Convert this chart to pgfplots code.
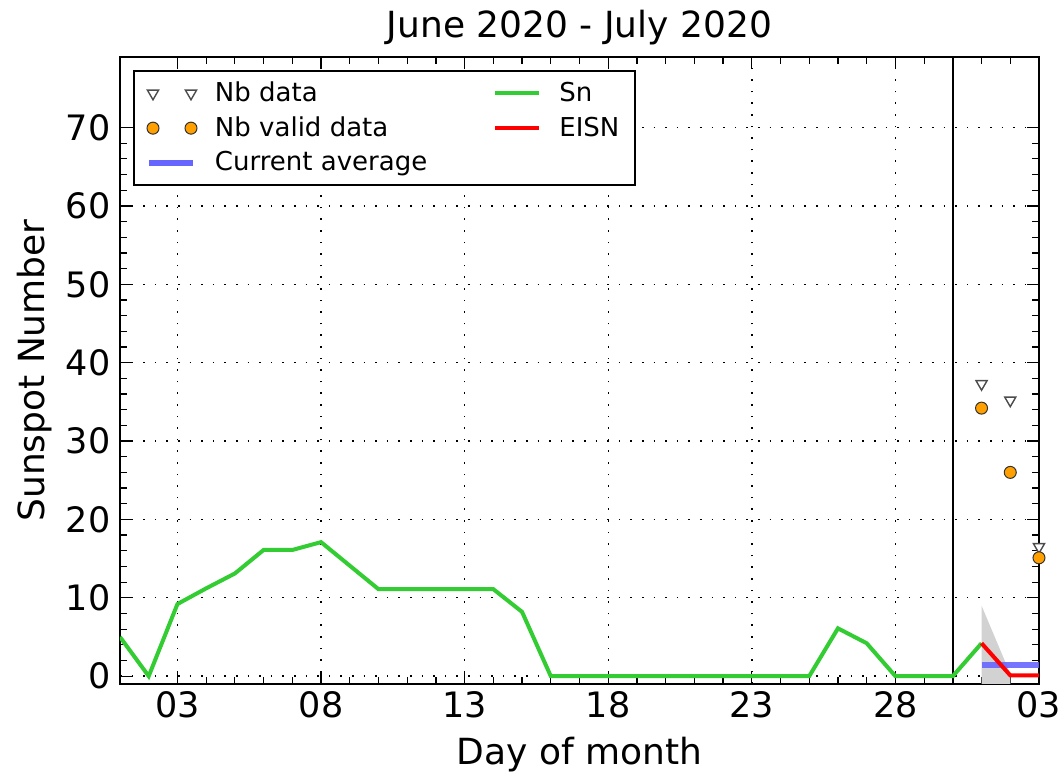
\documentclass[border=0pt]{standalone}
\usepackage{fontspec}
\setmainfont{DejaVu Sans}
\usepackage{pgfplots}
\pgfplotsset{compat=1.18}
\definecolor{sngreen}{RGB}{51,204,51}
\definecolor{avgblue}{RGB}{102,102,255}
\definecolor{nborange}{RGB}{255,160,0}
\pgfplotsset{
  twomarks/.style={legend image code/.code={\draw[##1] plot[only marks] coordinates {(2pt,0pt) (21pt,0pt)};}},
  oneline/.style={legend image code/.code={\draw[##1] (0pt,0pt) -- (22pt,0pt);}},
}
\begin{document}
\begin{tikzpicture}
\useasboundingbox (-60pt,-46pt) rectangle (471pt,342pt);
\begin{axis}[
  at={(0,0)}, anchor=south west,
  scale only axis, width=459.5pt, height=313.5pt,
  xmin=1, xmax=33, ymin=-1, ymax=79,
  xtick={3,8,13,18,23,28,33}, xticklabels={03,08,13,18,23,28,03},
  ytick={0,10,20,30,40,50,60,70},
  minor x tick num=4, minor y tick num=4,
  tick align=inside, xtick pos=both, ytick pos=both,
  major tick length=6pt, minor tick length=3.5pt,
  tick style={black, line width=0.6pt},
  axis line style={line width=1pt},
  grid=major,
  major grid style={black, line width=0.7pt, dash pattern=on 0.8pt off 5pt},
  /pgf/number format/assume math mode=true,
  tick label style={font=\fontsize{17.5}{20}\selectfont},
  yticklabel style={xshift=-1.3pt},
  title={June 2020 - July 2020},
  title style={font=\fontsize{18}{21}\selectfont, at={(axis description cs:0.5,1.0463)}, anchor=center, yshift=-6pt},
  xlabel={Day of month},
  xlabel style={font=\fontsize{18}{21}\selectfont, at={(axis description cs:0.5,-0.1132)}, anchor=center},
  ylabel={Sunspot Number},
  ylabel style={font=\fontsize{18}{21}\selectfont, at={(axis description cs:-0.0925,0.5)}, anchor=center},
  legend columns=2,
  legend cell align=left,
  legend style={at={(axis description cs:0,1)}, anchor=north west, xshift=6.5pt, yshift=-6.5pt,
    draw=black, line width=1pt, font=\fontsize{13}{16}\selectfont,
    /tikz/every even column/.append style={column sep=31pt},
    /tikz/every odd column/.append style={column sep=7pt},
    inner xsep=6pt, inner ysep=3.5pt, row sep=2pt},
  clip=true,
]
% legend entries (order as in reference: column-wise)
\addlegendimage{twomarks, mark=triangle*, mark size=3.2pt, mark options={rotate=180, fill=white, draw=gray!60!black, line width=0.7pt}}
\addlegendentry{Nb data}
\addlegendimage{oneline, sngreen, line width=2pt}
\addlegendentry{Sn}
\addlegendimage{twomarks, mark=*, mark size=3pt, mark options={fill=nborange, draw=black!80, line width=0.5pt}}
\addlegendentry{Nb valid data}
\addlegendimage{oneline, red, line width=2pt}
\addlegendentry{EISN}
\addlegendimage{oneline, avgblue, line width=3pt}
\addlegendentry{Current average}

% uncertainty band
\addplot[forget plot, fill=gray!35, draw=none] coordinates {(31,9) (32,0.3) (32,-1) (31,-3)} -- cycle;
% separator line
\addplot[forget plot, black, line width=1pt] coordinates {(30,-5) (30,90)};
% Sn
\addplot[forget plot, sngreen, line width=2pt] coordinates {
(1,5) (2,0) (3,9.2) (4,11.2) (5,13.1) (6,16.1) (7,16.1) (8,17.1) (9,14.1) (10,11.1)
(11,11.1) (12,11.1) (13,11.1) (14,11.1) (15,8.2) (16,0) (17,0) (18,0) (19,0) (20,0)
(21,0) (22,0) (23,0) (24,0) (25,0) (26,6.1) (27,4.2) (28,0) (29,0) (30,0) (31,4.2)};
% Current average
\addplot[forget plot, avgblue, line width=3pt, opacity=0.9] coordinates {(31,1.4) (33,1.4)};
% EISN
\addplot[forget plot, red, line width=2pt] coordinates {(31,4.2) (32,0.1) (33,0.1)};
% Nb data
\addplot[forget plot, only marks, mark=triangle*, mark size=3.2pt, mark options={rotate=180, fill=white, draw=gray!60!black, line width=0.7pt}] coordinates {(31,37.3) (32,35.2) (33,16.5)};
% Nb valid data
\addplot[forget plot, only marks, mark=*, mark size=3pt, mark options={fill=nborange, draw=black!80, line width=0.5pt}] coordinates {(31,34.2) (32,26.0) (33,15.1)};
\end{axis}
\end{tikzpicture}
\end{document}
